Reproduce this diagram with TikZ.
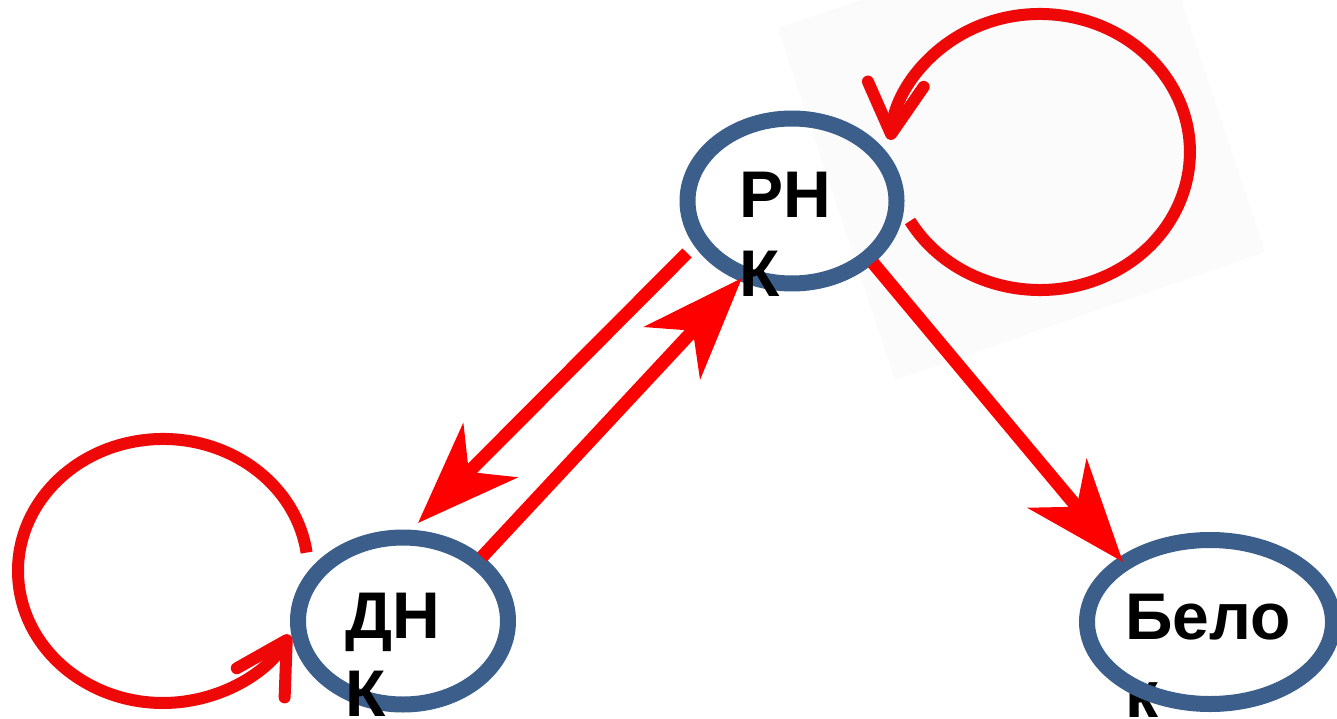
\documentclass[tikz,border=0pt]{standalone}
\usepackage{fontspec}
\setmainfont{Liberation Sans}
\usetikzlibrary{arrows.meta,calc,shapes.geometric}
\definecolor{ringblue}{HTML}{3B5E8A}
\definecolor{arrred}{HTML}{FF0000}
\definecolor{loopred}{HTML}{EE0808}
\definecolor{paleback}{HTML}{FBFBFC}
\begin{document}
\begin{tikzpicture}[x=1pt,y=-1pt,
  ring/.style={draw=ringblue, line width=16pt, ellipse, inner sep=0pt, outer sep=0pt},
  lbl/.style={anchor=base west, inner sep=0pt, font=\fontsize{66}{78}\selectfont\bfseries},
  bigarrow/.style={draw=arrred, line width=13pt, -{Stealth[length=102pt,width=76pt,inset=30pt]}},
  loopline/.style={draw=loopred, line width=12pt, -{Straight Barb[length=50pt,width=56pt,round]}}
]
\useasboundingbox (0,0) rectangle (1337,719);
\fill[white] (0,0) rectangle (1337,719);
\fill[paleback] (778,28) -- (861,0) -- (1181,0) -- (1265,252) -- (895,380) -- cycle;

% Belok label (under its ring)
\node[lbl] (belA) at (1125,639) {Бело};
\node[lbl] (belB) at (1125,717) {к};

% rings
\node[ring, minimum width=209pt, minimum height=165pt] (rnk) at (792,201) {};
\node[ring, minimum width=210pt, minimum height=167pt] (dnk) at (403,621) {};
\node[ring, minimum width=246pt, minimum height=164pt] (bel) at (1210,622) {};

% straight connectors
\draw[bigarrow] ($(rnk)+(-105,52)$) -- ($(dnk)+(15,-98)$);
\draw[bigarrow] ($(dnk)+(79,-64)$) -- ($(rnk)+(-50,77)$);
\draw[bigarrow] ($(rnk)+(81,62)$) -- ($(bel)+(-87,-60)$);

% self loops
\coordinate (dl) at ($(dnk)+(-96.4,-68.4)$);
\draw[loopline] (dl) arc[start angle=-8, end angle=-331, x radius=145, y radius=132];
\coordinate (rl) at ($(rnk)+(118,20)$);
\draw[loopline] (rl) arc[start angle=150, end angle=-175, x radius=150, y radius=138];

% labels on top
\node[lbl] (rnkA) at (739,218) {РН};
\node[lbl] (rnkB) at (739,296) {К};
\node[lbl] (dnkA) at (345,638) {ДН};
\node[lbl] (dnkB) at (345,716) {К};
\end{tikzpicture}
\end{document}
